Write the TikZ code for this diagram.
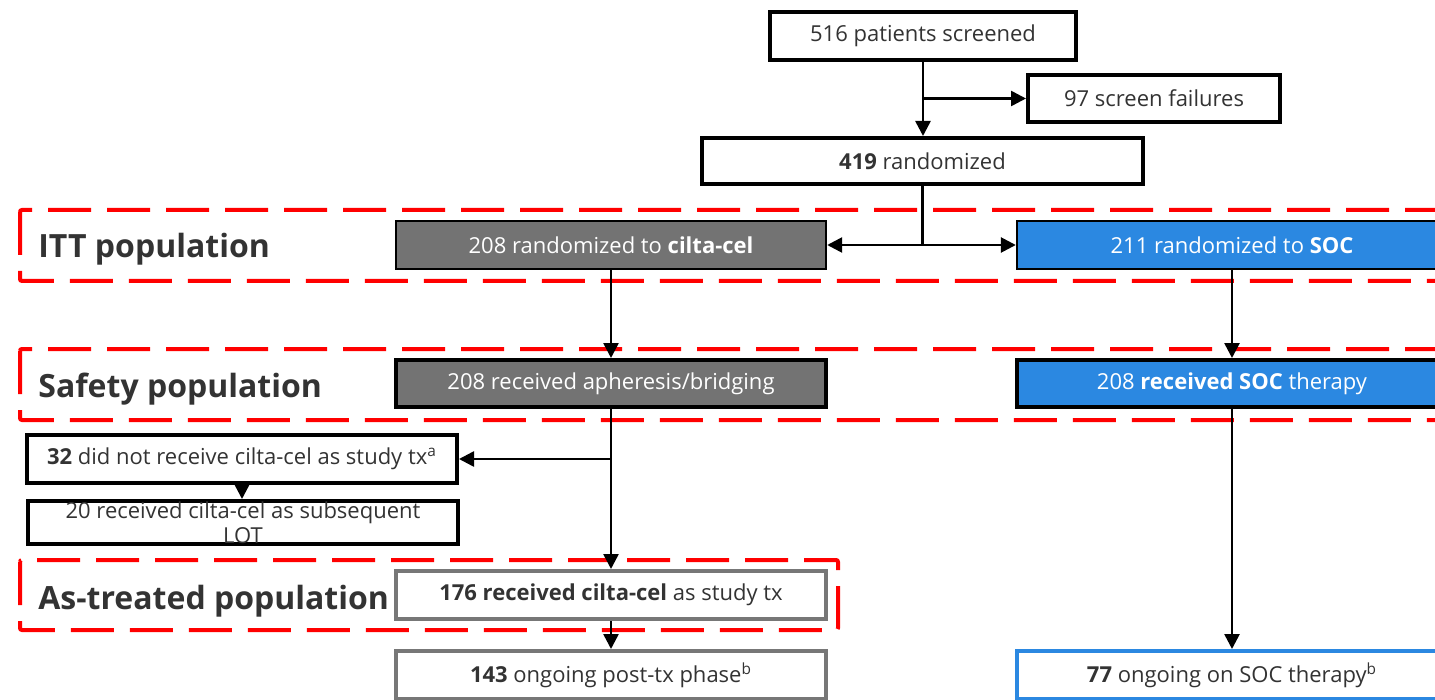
\documentclass[tikz,border=0pt]{standalone}
\usepackage{fontspec}
\setmainfont{Open Sans}
\usetikzlibrary{arrows.meta}

\definecolor{txtColor}{RGB}{51,51,51}
\definecolor{ciltaGray}{RGB}{115,115,115}
\definecolor{socBlue}{RGB}{43,136,225}
\definecolor{edgeGray}{RGB}{119,119,119}
\definecolor{popRed}{RGB}{255,0,0}

\tikzset{
  box/.style={draw=black,line width=2pt,fill=white,text=txtColor,inner sep=0pt,
    minimum width=215pt,minimum height=24pt,anchor=center,
    font=\fontsize{11}{12.5}\selectfont},
  armbox/.style={box,line width=1.2pt},
  ciltabox/.style={fill=ciltaGray,text=white},
  socbox/.style={fill=socBlue,text=white},
  popframe/.style={draw=popRed,line width=2pt,dash pattern=on 21.5pt off 8pt,rounded corners=1pt},
  poplabel/.style={anchor=west,inner sep=0pt,text=txtColor,font=\fontsize{16}{19}\selectfont\bfseries},
  arr/.style={draw=black,line width=1.3pt,-{Triangle[length=7.5pt,width=7.5pt]}},
  link/.style={draw=black,line width=1.3pt}
}

\begin{document}
\begin{tikzpicture}[x=0.5pt,y=-0.5pt]
\path[use as bounding box,fill=white] (0,0) rectangle (1435,700);
\begin{scope}
\path[clip] (0,0) rectangle (1435,700);

% population frames
\path[popframe] (20,210) rectangle (1462,281);
\path[popframe] (20,349) rectangle (1462,420);
\path[popframe] (20,560) rectangle (838,630);

\node[poplabel] (lblitt) at (38,249) {ITT population};
\node[poplabel] (lblsafe) at (38,389) {Safety population};
\node[poplabel] (lblat) at (38,601) {As-treated population};

% screening and randomization
\node[box,minimum width=153pt] (screened) at (923,36) {516 patients screened};
\node[box,minimum width=126pt,minimum height=23.5pt] (failures) at (1154,98.5) {97 screen failures};
\node[box,minimum width=220.5pt,minimum height=23pt] (randomized) at (922.5,161) {\textbf{419} randomized};

% arms
\node[armbox,ciltabox] (ciltarm) at (611,245) {208 randomized to \textbf{cilta-cel}};
\node[armbox,socbox] (socarm) at (1232,245) {211 randomized to \textbf{SOC}};

\node[box,ciltabox,minimum height=23.5pt] (apheresis) at (611,383.5) {208 received apheresis/bridging};
\node[box,socbox,minimum height=23.5pt] (socrecv) at (1232,383.5) {208 \textbf{received SOC} therapy};

\node[box] (notrecv) at (242,459) {\textbf{32} did not receive cilta-cel as study tx\textsuperscript{a}};
\node[box,minimum height=21.5pt,align=center] (sublot) at (243,522.5) {20 received cilta-cel as subsequent\\LOT};

\node[box,draw=edgeGray] (ciltarecv) at (611,595) {\textbf{176 received cilta-cel} as study tx};
\node[box,draw=edgeGray] (postphase) at (611,675) {\textbf{143} ongoing post-tx phase\textsuperscript{b}};
\node[box,draw=socBlue] (socongoing) at (1232,675) {\textbf{77} ongoing on SOC therapy\textsuperscript{b}};

% connectors
\coordinate (splitfail) at (923,98.5);
\coordinate (splitarm) at (922.5,245);
\coordinate (splitnot) at (611,459);

\path[arr] (screened.south) -- (screened.south |- randomized.north);
\path[arr] (splitfail) -- (failures.west);
\path[link] (randomized.south) -- (splitarm);
\path[arr] (splitarm) -- (ciltarm.east);
\path[arr] (splitarm) -- (socarm.west);
\path[arr] (ciltarm.south) -- (apheresis.north);
\path[arr] (socarm.south) -- (socrecv.north);
\path[arr] (apheresis.south) -- (ciltarecv.north);
\path[arr] (splitnot) -- (notrecv.east);
\path[arr] (notrecv.south) -- (notrecv.south |- sublot.north);
\path[arr] (ciltarecv.south) -- (postphase.north);
\path[arr] (socrecv.south) -- (socongoing.north);
\end{scope}
\end{tikzpicture}
\end{document}
